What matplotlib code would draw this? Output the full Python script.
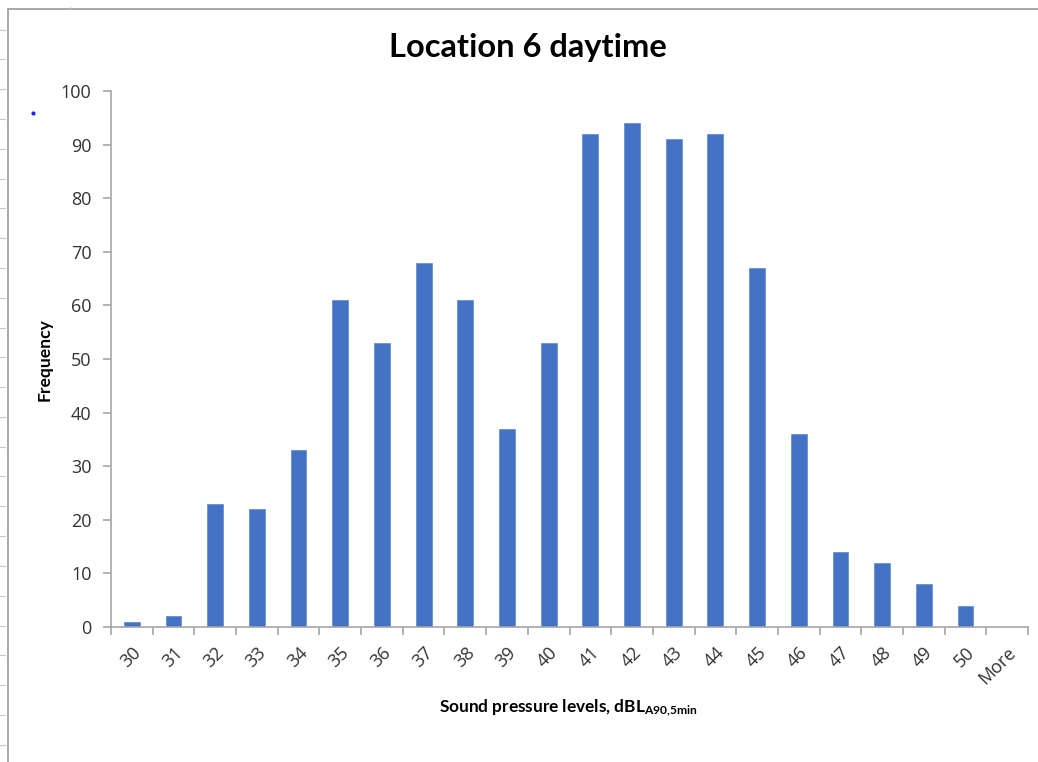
import matplotlib
matplotlib.use("Agg")
import matplotlib.pyplot as plt
from matplotlib.lines import Line2D
from matplotlib.patches import Rectangle
import numpy as np

# histogram bins and counts
bins = ['30', '31', '32', '33', '34', '35', '36', '37', '38', '39', '40',
        '41', '42', '43', '44', '45', '46', '47', '48', '49', '50', 'More']
frequency = [1, 2, 23, 22, 33, 61, 53, 68, 61, 37, 53,
             92, 94, 91, 92, 67, 36, 14, 12, 8, 4, 0]

plt.rcParams['font.family'] = ['Open Sans', 'DejaVu Sans']
plt.rcParams['mathtext.fontset'] = 'custom'
plt.rcParams['mathtext.rm'] = 'Lato:bold'
plt.rcParams['mathtext.it'] = 'Lato:bold'

W, H = 1038, 762
fig = plt.figure(figsize=(W / 100, H / 100), dpi=100)

# spreadsheet leftovers: chart frame, row marks, stray dot
fig.patches.append(Rectangle((8 / W, -0.1), 1.2, (H - 9) / H + 0.1,
                             transform=fig.transFigure, fill=False,
                             edgecolor='#9a9a9a', lw=1.2))
for yy in np.arange(29.5, H, 29.8):
    fig.add_artist(Line2D([0, 5 / W], [1 - yy / H, 1 - yy / H],
                          color='#c8c8c8', lw=0.8))
fig.add_artist(Line2D([70 / W, 70 / W], [1 - 7 / H, 1 - 9 / H],
                      color='#c8c8c8', lw=0.8))
fig.add_artist(Line2D([33 / W], [1 - 113 / H], marker='o', markersize=2,
                      color='#2020ff', lw=0))

ax = fig.add_axes([111 / W, 1 - 627 / H, (1028 - 111) / W, (627 - 91) / H])
x = np.arange(len(bins))
ax.bar(x, frequency, width=0.38, color='#4472C4', edgecolor='#6a90d6', lw=0.6)

ax.set_xlim(-0.5, len(bins) - 0.5)
ax.set_ylim(0, 100)
ax.set_yticks(range(0, 101, 10))
ax.set_xticks(x)
ax.set_xticklabels(bins, rotation=45, ha='right', rotation_mode='anchor',
                   fontsize=13, color='#333333')
ax.set_xticks(np.arange(-0.5, len(bins), 1), minor=True)
ax.tick_params(axis='x', which='major', length=0, pad=12)
ax.tick_params(axis='x', which='minor', length=6, color='#a6a6a6', width=1.2)
ax.tick_params(axis='y', length=6, color='#a6a6a6', width=1.2,
               labelsize=13, labelcolor='#333333', pad=8)
for s in ['top', 'right']:
    ax.spines[s].set_visible(False)
for s in ['left', 'bottom']:
    ax.spines[s].set_color('#a6a6a6')
    ax.spines[s].set_linewidth(1.2)

fig.text(528 / W, 1 - 47 / H, 'Location 6 daytime', fontsize=23.5,
         fontweight='bold', family=['Lato', 'DejaVu Sans'],
         ha='center', va='center')
fig.text(568 / W, 1 - 708 / H, r'Sound pressure levels, dBL$_{A90{,}5min}$',
         fontsize=12.4, fontweight='bold', family=['Lato', 'DejaVu Sans'],
         ha='center', va='center')
fig.text(45 / W, 1 - 360 / H, 'Frequency', fontsize=12.6, fontweight='bold',
         family=['Lato', 'DejaVu Sans'], rotation=90,
         ha='center', va='center')

fig.savefig('out.png', dpi=100)
